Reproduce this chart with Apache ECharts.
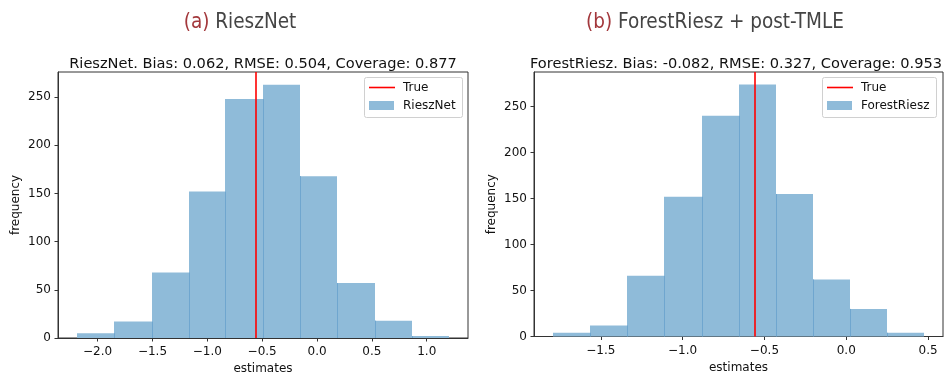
<!DOCTYPE html>
<html>
<head>
<meta charset="utf-8">
<script src="https://cdn.jsdelivr.net/npm/echarts@6/dist/echarts.min.js"></script>
<style>html,body{margin:0;padding:0;background:#fff}#c{width:947px;height:374px}</style>
</head>
<body>
<div id="c"></div>
<script>
// ---- data ----
const rieszEdges = [-2.191, -1.848, -1.505, -1.169, -0.836, -0.494, -0.151, 0.185, 0.525, 0.867, 1.206];
const rieszCounts = [5, 17, 68, 152, 248, 263, 168, 57, 18, 2];
const forestEdges = [-1.794, -1.568, -1.340, -1.112, -0.884, -0.656, -0.432, -0.206, 0.020, 0.248, 0.477];
const forestCounts = [4, 12, 66, 152, 240, 274, 155, 62, 30, 4];
const trueValue = -0.56;
const xTicksA = [-2.0, -1.5, -1.0, -0.5, 0.0, 0.5, 1.0];
const xTicksB = [-1.5, -1.0, -0.5, 0.0, 0.5];
const yTicks = [0, 50, 100, 150, 200, 250];
const titleA = 'RieszNet. Bias: 0.062, RMSE: 0.504, Coverage: 0.877';
const titleB = 'ForestRiesz. Bias: -0.082, RMSE: 0.327, Coverage: 0.953';

function histData(edges, counts) {
  return counts.map((c, i) => [edges[i], edges[i + 1], c, i > 0 ? counts[i - 1] : 0]);
}
const FILL = '#8fbbd9';
const EDGE = '#6fa6cf';
function renderBar(params, api) {
  const x0 = api.value(0), x1 = api.value(1), c = api.value(2), prev = api.value(3);
  const pTop = api.coord([x0, c]);
  const pBot = api.coord([x1, 0]);
  const L = Math.round(pTop[0]), R = Math.round(pBot[0]);
  const children = [{
    type: 'rect',
    shape: { x: L, y: pTop[1], width: R - L, height: pBot[1] - pTop[1] },
    style: { fill: FILL }
  }];
  if (prev > 0) {
    const b = api.coord([x0, Math.min(prev, c)]);
    children.push({
      type: 'line',
      shape: { x1: L + 0.5, y1: pBot[1], x2: L + 0.5, y2: b[1] },
      style: { stroke: EDGE, lineWidth: 1 }
    });
  }
  return { type: 'group', children };
}
const fmt = v => (v < 0 ? '\u2212' : '') + Math.abs(v).toFixed(1);
const TXT = '#111';
const AX = '#333';
const FS = 12;
function xAxis(idx, min, max, ticks) {
  return {
    type: 'value', gridIndex: idx, min, max,
    name: 'estimates', nameLocation: 'middle', nameGap: 24,
    nameTextStyle: { fontFamily: 'DejaVu Sans', fontSize: FS, color: TXT },
    axisLine: { show: true, onZero: false, lineStyle: { color: AX, width: 1 } },
    axisTick: { show: true, inside: false, length: 3.5, customValues: ticks, lineStyle: { color: AX } },
    axisLabel: { customValues: ticks, formatter: fmt, margin: 8, fontFamily: 'DejaVu Sans', fontSize: FS, color: TXT },
    splitLine: { show: false }
  };
}
function yAxis(idx, max) {
  return {
    type: 'value', gridIndex: idx, min: 0, max,
    name: 'frequency', nameLocation: 'middle', nameGap: 36, nameRotate: 90,
    nameTextStyle: { fontFamily: 'DejaVu Sans', fontSize: FS, color: TXT },
    axisLine: { show: true, onZero: false, lineStyle: { color: AX, width: 1 } },
    axisTick: { show: true, inside: false, length: 3.5, customValues: yTicks, lineStyle: { color: AX } },
    axisLabel: { customValues: yTicks, margin: 7, fontFamily: 'DejaVu Sans', fontSize: FS, color: TXT },
    splitLine: { show: false }
  };
}
function histSeries(name, idx, edges, counts) {
  return {
    type: 'custom', name, xAxisIndex: idx, yAxisIndex: idx,
    data: histData(edges, counts), encode: { x: [0, 1], y: 2 },
    renderItem: renderBar, silent: true,
    markLine: {
      silent: true, symbol: 'none', animation: false,
      data: [{ xAxis: trueValue }],
      label: { show: false },
      lineStyle: { color: '#ff0000', width: 1.6, type: 'solid' }
    }
  };
}
function legend(x0, x1, label) {
  return [
    { type: 'rect', shape: { x: x0 + 0.5, y: 77.5, width: x1 - x0, height: 40, r: 2 },
      style: { fill: 'rgba(255,255,255,0.8)', stroke: '#d0d0d0', lineWidth: 1 }, z: 100 },
    { type: 'line', shape: { x1: x0 + 5, y1: 87.5, x2: x0 + 31, y2: 87.5 },
      style: { stroke: '#ff0000', lineWidth: 1.6 }, z: 101 },
    { type: 'rect', shape: { x: x0 + 5, y: 101, width: 25, height: 9 },
      style: { fill: FILL }, z: 101 },
    { type: 'text', x: x0 + 39, y: 88, z: 101,
      style: { text: 'True', font: FS + 'px "DejaVu Sans"', fill: TXT, verticalAlign: 'middle' } },
    { type: 'text', x: x0 + 39, y: 106, z: 101,
      style: { text: label, font: FS + 'px "DejaVu Sans"', fill: TXT, verticalAlign: 'middle' } }
  ];
}
const HEADFONT = "'Liberation Sans Narrow', 'DejaVu Sans Condensed', sans-serif";
const HFS = 20.5;
const chart = echarts.init(document.getElementById('c'), null, { renderer: 'canvas' });
chart.setOption({
  animation: false,
  backgroundColor: '#fff',
  title: [
    { text: '{r|(a)} RieszNet', left: 235, top: 18, textAlign: 'center', textVerticalAlign: 'middle',
      textStyle: { fontFamily: HEADFONT, fontSize: HFS, fontWeight: 'normal', color: '#444',
        rich: { r: { fontFamily: HEADFONT, fontSize: HFS, color: '#a3383c' } } } },
    { text: '{r|(b)} ForestRiesz + post-TMLE', left: 710, top: 18, textAlign: 'center', textVerticalAlign: 'middle',
      textStyle: { fontFamily: HEADFONT, fontSize: HFS, fontWeight: 'normal', color: '#444',
        rich: { r: { fontFamily: HEADFONT, fontSize: HFS, color: '#a3383c' } } } },
    { text: titleA, left: 258, top: 59, textAlign: 'center', textVerticalAlign: 'middle',
      textStyle: { fontFamily: 'DejaVu Sans', fontSize: 14.6, fontWeight: 'normal', color: TXT } },
    { text: titleB, left: 731, top: 59, textAlign: 'center', textVerticalAlign: 'middle',
      textStyle: { fontFamily: 'DejaVu Sans', fontSize: 14.6, fontWeight: 'normal', color: TXT } }
  ],
  grid: [
    { left: 58, top: 72, width: 410, height: 266, outerBoundsMode: 'none', containLabel: false,
      show: true, borderColor: AX, borderWidth: 1, backgroundColor: 'transparent' },
    { left: 534, top: 72, width: 409, height: 264.5, outerBoundsMode: 'none', containLabel: false,
      show: true, borderColor: AX, borderWidth: 1, backgroundColor: 'transparent' }
  ],
  xAxis: [xAxis(0, -2.361, 1.376, xTicksA), xAxis(1, -1.908, 0.591, xTicksB)],
  yAxis: [yAxis(0, 276.15), yAxis(1, 287.7)],
  series: [
    histSeries('RieszNet', 0, rieszEdges, rieszCounts),
    histSeries('ForestRiesz', 1, forestEdges, forestCounts)
  ],
  graphic: [...legend(364, 462, 'RieszNet'), ...legend(822, 936, 'ForestRiesz')]
});
</script>
</body>
</html>
